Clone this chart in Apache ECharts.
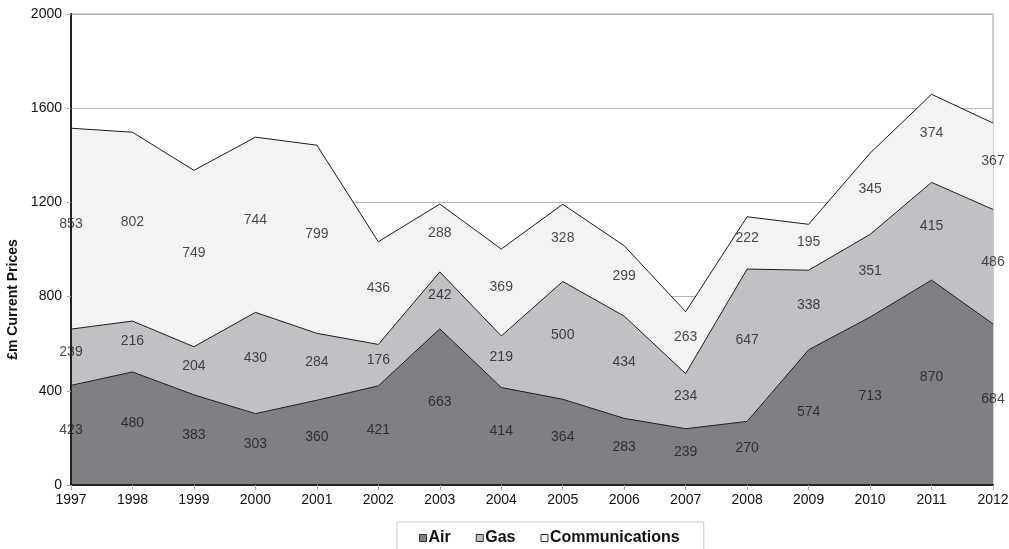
<!DOCTYPE html>
<html>
<head>
<meta charset="utf-8">
<script src="https://cdn.jsdelivr.net/npm/echarts@6/dist/echarts.min.js"></script>
<style>
  html, body { margin: 0; padding: 0; background: #fff; }
  #chart { width: 1009px; height: 549px; }
</style>
</head>
<body>
<div id="chart"></div>
<script>
const years = ['1997', '1998', '1999', '2000', '2001', '2002', '2003', '2004',
  '2005', '2006', '2007', '2008', '2009', '2010', '2011', '2012']
const air = [423, 480, 383, 303, 360, 421, 663, 414, 364, 283, 239, 270, 574, 713, 870, 684]
const gas = [239, 216, 204, 430, 284, 176, 242, 219, 500, 434, 234, 647, 338, 351, 415, 486]
const communications = [853, 802, 749, 744, 799, 436, 288, 369, 328, 299, 263, 222, 195, 345, 374, 367]

const FONT = 'Liberation Sans, Arial, sans-serif'

const layers = [
  { name: 'Air', data: air, color: '#808084' },
  { name: 'Gas', data: gas, color: '#c0c1c5' },
  { name: 'Communications', data: communications, color: '#f2f3f3' }
]

// labels sit at the middle of each band
const labelSeries = layers.map((layer, idx) => ({
  type: 'scatter',
  symbolSize: 0,
  silent: true,
  z: 5,
  data: layer.data.map((v, i) => {
    let base = 0
    for (let k = 0; k < idx; k++) base += layers[k].data[i]
    return { value: base + v / 2, raw: v }
  }),
  label: {
    show: true,
    position: 'inside',
    offset: [0, -5],
    color: '#1a1a1a',
    fontFamily: FONT,
    fontSize: 14,
    formatter: (p) => String(p.data.raw)
  }
}))

const chart = echarts.init(document.getElementById('chart'))
chart.setOption({
  animation: false,
  grid: {
    left: 71,
    right: 16,
    top: 14,
    bottom: 64,
    outerBoundsMode: 'none',
    show: true,
    borderColor: '#9a9a9a',
    borderWidth: 1
  },
  legend: {
    data: layers.map((l) => l.name),
    left: 397,
    top: 522,
    padding: [8, 24, 10, 22],
    itemGap: 25,
    itemWidth: 7,
    itemHeight: 7,
    icon: 'rect',
    borderColor: '#c8c8c8',
    borderWidth: 1,
    itemStyle: { borderColor: '#333', borderWidth: 1 },
    textStyle: { fontFamily: FONT, fontSize: 16, fontWeight: 'bold', color: '#111', padding: [0, 0, 0, -3] }
  },
  xAxis: {
    type: 'category',
    boundaryGap: false,
    data: years,
    z: 4,
    axisLine: { lineStyle: { color: '#222', width: 2 } },
    axisTick: { show: true, length: 5, lineStyle: { color: '#aaa' } },
    axisLabel: { color: '#111', fontFamily: FONT, fontSize: 14, margin: 8 },
    splitLine: { show: false }
  },
  yAxis: [{
    type: 'value',
    min: 0,
    max: 2000,
    interval: 400,
    z: 4,
    name: '£m Current Prices',
    nameLocation: 'middle',
    nameGap: 48,
    nameTextStyle: {
      fontFamily: FONT, fontSize: 14, fontWeight: 'bold', color: '#111',
      padding: [0, 100, 0, 0]
    },
    axisLine: { show: true, lineStyle: { color: '#222', width: 2 } },
    axisTick: { show: true, length: 4, lineStyle: { color: '#aaa' } },
    axisLabel: { color: '#111', fontFamily: FONT, fontSize: 14, margin: 9, formatter: (v) => String(v) },
    splitLine: { show: false }
  }, {
    // grid lines only, kept behind the areas
    type: 'value',
    position: 'left',
    min: 0,
    max: 2000,
    interval: 400,
    z: 0,
    axisLine: { show: false },
    axisTick: { show: false },
    axisLabel: { show: false },
    splitLine: { lineStyle: { color: '#b4b4b4', width: 1 } }
  }],
  series: layers.map((layer) => ({
    name: layer.name,
    type: 'line',
    stack: 'total',
    data: layer.data,
    symbol: 'none',
    itemStyle: { color: layer.color },
    lineStyle: { color: '#1a1a1a', width: 1 },
    areaStyle: { color: layer.color, opacity: 1 }
  })).concat(labelSeries)
})
</script>
</body>
</html>
